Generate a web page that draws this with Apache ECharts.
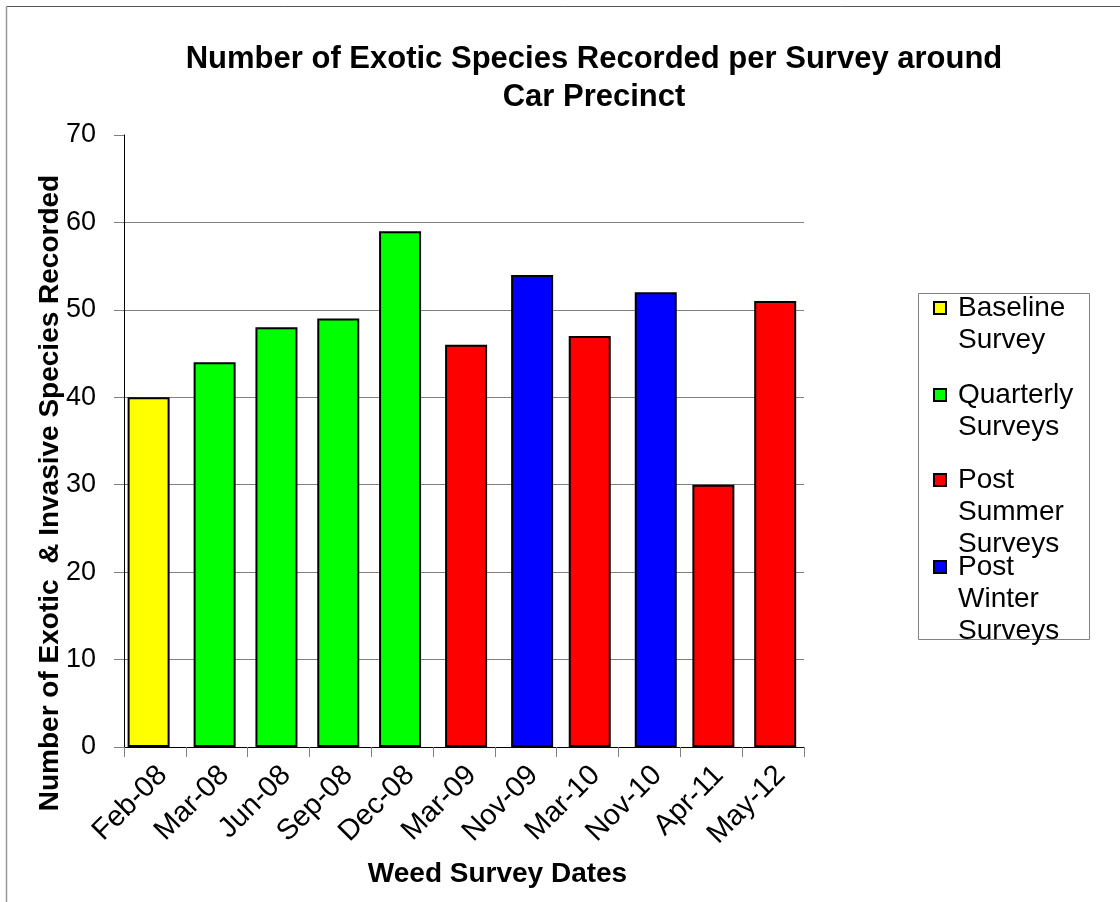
<!DOCTYPE html>
<html>
<head>
<meta charset="utf-8">
<title>Exotic Species per Survey</title>
<script src="https://cdn.jsdelivr.net/npm/echarts@6/dist/echarts.min.js"></script>
<style>
  html, body { margin: 0; padding: 0; background: #fff; }
  #chart { width: 1120px; height: 902px; }
</style>
</head>
<body>
<div id="chart"></div>
<script>
// Survey dates along the x axis
const categories = ['Feb-08', 'Mar-08', 'Jun-08', 'Sep-08', 'Dec-08', 'Mar-09', 'Nov-09', 'Mar-10', 'Nov-10', 'Apr-11', 'May-12'];
// Number of exotic & invasive species recorded at each survey
const speciesCounts = [40, 44, 48, 49, 59, 46, 54, 47, 52, 30, 51];
// Survey type for each date
const surveyTypes = ['Baseline Survey', 'Quarterly Surveys', 'Quarterly Surveys', 'Quarterly Surveys', 'Quarterly Surveys',
  'Post Summer Surveys', 'Post Winter Surveys', 'Post Summer Surveys', 'Post Winter Surveys', 'Post Summer Surveys', 'Post Summer Surveys'];
// Series (one per survey type) and their colours
const seriesNames = ['Baseline Survey', 'Quarterly Surveys', 'Post Summer Surveys', 'Post Winter Surveys'];
const seriesColors = ['#FFFF00', '#00FF00', '#FF0000', '#0000FF'];
// Wrapped legend labels
const legendLabels = ['Baseline\nSurvey', 'Quarterly\nSurveys', 'Post\nSummer\nSurveys', 'Post\nWinter\nSurveys'];
// Y axis range
const yMin = 0, yMax = 70, yStep = 10;

const FONT = 'Liberation Sans, Arial, sans-serif';
const LEGEND_LINE = 32;
const legendTops = [302, 389, 474, 561]; // top of each legend marker

const chart = echarts.init(document.getElementById('chart'), null, { renderer: 'canvas' });

const series = seriesNames.map((name, i) => ({
  name: name,
  type: 'bar',
  barWidth: 42,
  barGap: '-90%',
  data: speciesCounts.map((v, j) => surveyTypes[j] === name ? v : '-'),
  itemStyle: { color: seriesColors[i], borderColor: '#000', borderWidth: 2 },
  emphasis: { disabled: true },
  animation: false
}));

// One legend per entry so every marker sits beside the first line of its label.
// Leading blank lines keep the first text line level with the (vertically centred) marker.
const legends = seriesNames.map((name, i) => {
  const lines = legendLabels[i].split('\n').length;
  const itemH = 12;
  const textH = (2 * lines - 1) * LEGEND_LINE;
  const label = '\n'.repeat(lines - 1) + legendLabels[i];
  return {
    data: [name],
    orient: 'vertical',
    left: 933,
    top: legendTops[i] + itemH / 2 - textH / 2,
    padding: 0,
    itemWidth: 12,
    itemHeight: itemH,
    icon: 'rect',
    selectedMode: false,
    itemStyle: { borderColor: '#000', borderWidth: 2 },
    formatter: () => label,
    textStyle: {
      fontFamily: FONT,
      fontSize: 28,
      color: '#000',
      lineHeight: LEGEND_LINE,
      padding: [0, 0, 0, 7]
    }
  };
});

const option = {
  backgroundColor: '#fff',
  animation: false,
  title: {
    text: 'Number of Exotic Species Recorded per Survey around\nCar Precinct',
    left: 589,
    top: 35,
    textAlign: 'center',
    textStyle: { fontFamily: FONT, fontSize: 31, fontWeight: 'bold', color: '#000', lineHeight: 38 }
  },
  legend: legends,
  grid: { left: 124, right: 316, top: 135, bottom: 155, containLabel: false },
  xAxis: {
    type: 'category',
    data: categories,
    name: 'Weed Survey Dates',
    nameLocation: 'middle',
    nameGap: 113,
    nameMoveOverlap: false,
    nameTextStyle: { fontFamily: FONT, fontSize: 28, fontWeight: 'bold', color: '#000', padding: [0, 0, 0, 67] },
    axisLine: { lineStyle: { color: '#000', width: 1 } },
    axisTick: { show: true, alignWithLabel: false, length: 10, lineStyle: { color: '#808080' } },
    axisLabel: {
      rotate: 45, color: '#000', margin: 16, interval: 0,
      formatter: (v) => '{d|' + v + '}',
      rich: { d: { fontFamily: FONT, fontSize: 29, color: '#000', padding: [22, 0, 0, 0] } }
    },
    splitLine: { show: false }
  },
  yAxis: {
    type: 'value',
    min: yMin,
    max: yMax,
    interval: yStep,
    name: 'Number of Exotic  & Invasive Species Recorded',
    nameLocation: 'middle',
    nameGap: 60,
    nameMoveOverlap: false,
    nameTextStyle: { fontFamily: FONT, fontSize: 28, fontWeight: 'bold', color: '#000', padding: [0, 104, 0, 0] },
    axisLine: { show: true, lineStyle: { color: '#000', width: 1 } },
    axisTick: { show: true, length: 10, lineStyle: { color: '#808080' } },
    axisLabel: { fontFamily: FONT, fontSize: 27, color: '#000', margin: 28 },
    splitLine: {
      show: true,
      lineStyle: { color: ['#808080', '#808080', '#808080', '#808080', '#808080', '#808080', '#808080', 'rgba(0,0,0,0)'], width: 1 }
    }
  },
  graphic: [
    // outer chart frame (top and left edges)
    { type: 'line', shape: { x1: 6.5, y1: 6.5, x2: 1120, y2: 6.5 }, style: { stroke: '#555', lineWidth: 1 }, silent: true },
    { type: 'line', shape: { x1: 6.5, y1: 6.5, x2: 6.5, y2: 902 }, style: { stroke: '#999', lineWidth: 1.5 }, silent: true },
    // legend frame
    { type: 'rect', shape: { x: 918.5, y: 293.5, width: 171, height: 346 }, style: { fill: 'none', stroke: '#808080', lineWidth: 1 }, z: -1, silent: true }
  ],
  series: series
};

chart.setOption(option);
</script>
</body>
</html>
